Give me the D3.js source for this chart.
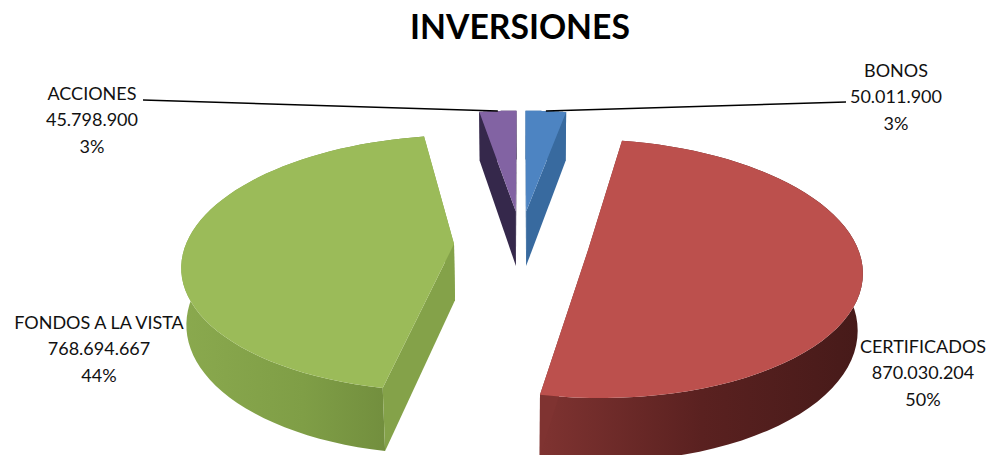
<!DOCTYPE html>
<html>
<head>
<meta charset="utf-8">
<script src="https://cdnjs.cloudflare.com/ajax/libs/d3/7.8.5/d3.min.js"></script>
<style>
html,body{margin:0;padding:0;background:#fff}
svg{display:block}
text{font-family:Lato,"Open Sans",sans-serif;fill:#111}
</style>
</head>
<body>
<svg id="c" width="990" height="455"></svg>
<script>
const titleText = "INVERSIONES";
const categories = ["BONOS", "CERTIFICADOS", "FONDOS A LA VISTA", "ACCIONES"];
const values = [50011900, 870030204, 768694667, 45798900];

// layout and style settings, kept apart from the data
const topColors = ["#4d84c2", "#bc504d", "#9bbb59", "#8263a3"];
const faceColors = ["#386a9f", "#7f3331", "#84a249", "#35284b"];
const wallStops = [["#3f6f9f", "#3f6f9f", "#3f6f9f"], ["#7f3331", "#5a2120", "#461a19"], ["#8aa94e", "#7f9e46", "#6c873a"], ["#35284b", "#35284b", "#35284b"]];
const explode = [[0.02, 0.27], [0.25, -0.04], [-0.25, 0], [-0.02, 0.27]];
const labelPos = [[896, 72], [923, 348], [99, 324], [92, 95]];
const leaderFrom = [[846, 102], null, null, [143, 100]];
const cx = 521, cy = 244, Rx = 268, Ry = 125, H = 57, pY = 0.15, pZ = 0.015;

const svg = d3.select("#c");
const defs = svg.append("defs");
const fmt = d3.formatLocale({decimal: ",", thousands: ".", grouping: [3], currency: ["", ""]}).format(",d");
const total = d3.sum(values);
const pie = d3.pie().sort(null).value(d => d)(values);
const line = d3.line();

// plane point (unit disc, exploded) + depth -> screen
function proj(i, r, a, z) {
  const X = explode[i][0] + r * Math.sin(a);
  const Y = explode[i][1] + r * Math.cos(a);
  const w = 1 + pY * Y + pZ * z;
  return [cx + Rx * X / w, cy + (-Ry * Y + H * z) / w];
}
const arcAngles = d => d3.range(0, 61).map(k => d.startAngle + (d.endAngle - d.startAngle) * k / 60);

pie.forEach((d, i) => {
  const g = svg.append("g");
  const id = "wall" + i;
  const lg = defs.append("linearGradient").attr("id", id).attr("x1", 0).attr("x2", 1).attr("y1", 0).attr("y2", 0);
  wallStops[i].forEach((c, k) => lg.append("stop").attr("offset", k / 2).attr("stop-color", c));
  const as = arcAngles(d);
  // outer wall
  const wall = as.map(a => proj(i, 1, a, 0)).concat(as.slice().reverse().map(a => proj(i, 1, a, 1)));
  g.append("path").attr("d", line(wall) + "Z").attr("fill", `url(#${id})`);
  // radial faces
  [d.startAngle, d.endAngle].forEach(a => {
    const f = [proj(i, 0, a, 0), proj(i, 1, a, 0), proj(i, 1, a, 1), proj(i, 0, a, 1)];
    g.append("path").attr("d", line(f) + "Z").attr("fill", faceColors[i]);
  });
  // top
  const top = [proj(i, 0, 0, 0)].concat(as.map(a => proj(i, 1, a, 0)));
  g.append("path").attr("d", line(top) + "Z").attr("fill", topColors[i]);
});

// leader lines
pie.forEach((d, i) => {
  if (!leaderFrom[i]) return;
  const end = proj(i, 1, (d.startAngle + d.endAngle) / 2, 0);
  svg.append("path").attr("d", line([leaderFrom[i], end]))
    .attr("fill", "none").attr("stroke", "#000").attr("stroke-width", 1.6);
});

// labels
categories.forEach((c, i) => {
  const rows = [c, fmt(values[i]), Math.round(values[i] / total * 100) + "%"];
  rows.forEach((t, k) => {
    svg.append("text").attr("x", labelPos[i][0]).attr("y", labelPos[i][1] + k * 26.5)
      .attr("text-anchor", "middle").attr("dominant-baseline", "middle")
      .attr("font-size", 18).text(t);
  });
});

svg.append("text").attr("x", 520).attr("y", 30).attr("text-anchor", "middle")
  .attr("dominant-baseline", "middle").attr("font-size", 33.7).attr("font-weight", 700)
  .style("fill", "#000").text(titleText);
</script>
</body>
</html>
